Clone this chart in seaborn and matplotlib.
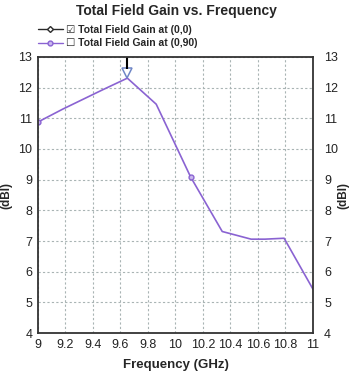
import matplotlib
matplotlib.use("Agg")
import matplotlib.pyplot as plt
import seaborn as sns
import pandas as pd
from matplotlib.lines import Line2D

# data
freq = [9.0, 9.18, 9.47, 9.65, 9.86, 10.11, 10.34, 10.55, 10.65, 10.79, 11.0]
gain_0_90 = [10.88, 11.3, 11.93, 12.31, 11.46, 9.09, 7.31, 7.06, 7.06, 7.09, 5.43]
marker_freq = [9.0, 10.11]
marker_gain = [10.88, 9.09]
peak_freq = [9.65]
peak_gain = [12.31]
legend_labels = ["\u2611 Total Field Gain at (0,0)", "\u2610 Total Field Gain at (0,90)"]

sns.set_style("white")
plt.rcParams['font.family'] = ['Liberation Sans', 'DejaVu Sans']

df = pd.DataFrame({'freq': freq, 'gain': gain_0_90})
purple = '#8a63d2'

fig = plt.figure(figsize=(3.53, 3.72), dpi=100)
ax = fig.add_axes([0.1076, 0.1048, 0.779, 0.742])

sns.lineplot(data=df, x='freq', y='gain', color=purple, linewidth=1.2, ax=ax)
ax.plot(marker_freq, marker_gain, 'o', color=purple, markersize=3.5,
        markerfacecolor='#c9b8ee', markeredgewidth=1)
ax.plot(peak_freq, [g + 0.17 for g in peak_gain], 'v', markersize=7.5,
        markerfacecolor='white', markeredgecolor='#6f86c6', markeredgewidth=1.1, clip_on=False)
ax.vlines(peak_freq, 12.62, 13.0, color='black', linewidth=1.5, clip_on=False)

ax.set_xlim(9, 11)
ax.set_ylim(4, 13)
ax.set_xticks([9, 9.2, 9.4, 9.6, 9.8, 10, 10.2, 10.4, 10.6, 10.8, 11])
ax.set_xticklabels(['9', '9.2', '9.4', '9.6', '9.8', '10', '10.2', '10.4', '10.6', '10.8', '11'])
ax.set_yticks(range(4, 14))
ax.grid(True, linestyle=(0, (2, 2)), color='#a9b4b4', linewidth=0.8)
ax.tick_params(axis='both', length=0, labelsize=9, colors='#222222', pad=4)
for s in ax.spines.values():
    s.set_color('#333333')
    s.set_linewidth(1.3)

ax.set_xlabel('Frequency (GHz)', fontsize=9.5, fontweight='bold', labelpad=6)
ax.set_ylabel('(dBI)', fontsize=8.5, fontweight='bold')
ax.yaxis.set_label_coords(-0.093, 0.5)

ax2 = ax.twinx()
ax2.set_ylim(4, 13)
ax2.set_yticks(range(4, 14))
ax2.tick_params(axis='y', length=0, labelsize=9, colors='#222222', pad=8)
ax2.set_ylabel('(dBI)', fontsize=8.5, fontweight='bold', rotation=90)
ax2.yaxis.set_label_coords(1.088, 0.5)
for s in ax2.spines.values():
    s.set_visible(False)

fig.suptitle('Total Field Gain vs. Frequency', fontsize=10, fontweight='bold', y=0.99)

handles = [
    Line2D([0], [0], color='#2a2a2a', marker='D', markersize=3, markerfacecolor='white', linewidth=1),
    Line2D([0], [0], color=purple, marker='o', markersize=3.5, markerfacecolor='#c9b8ee', linewidth=1),
]
fig.legend(handles, legend_labels, loc='upper left', bbox_to_anchor=(0.095, 0.945),
           frameon=False, handlelength=2.4, handletextpad=0.3,
           labelspacing=0.35, borderaxespad=0, prop={'weight': 'bold', 'size': 7.5})

fig.savefig('out.png', dpi=100)
